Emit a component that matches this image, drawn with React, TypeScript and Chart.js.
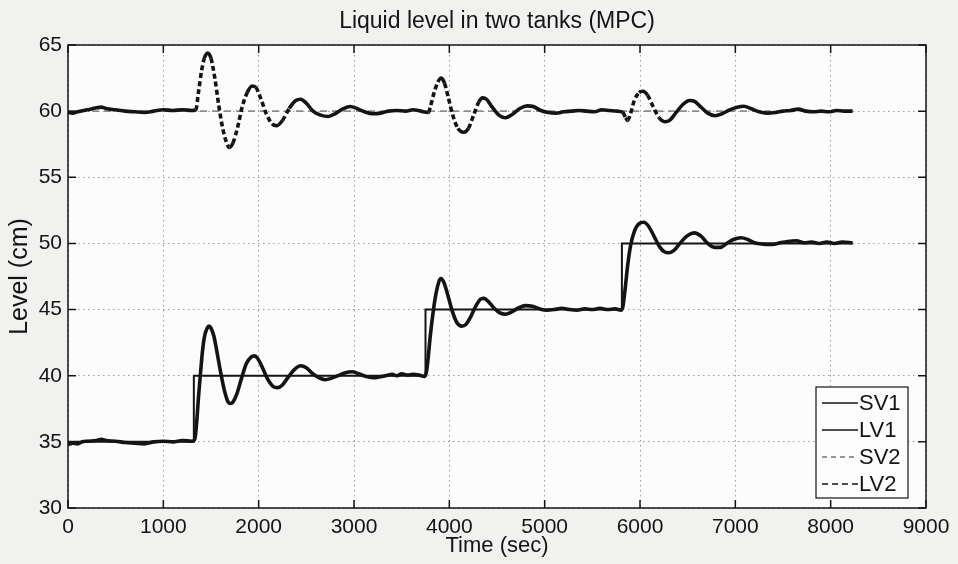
import React, { useEffect, useRef } from "react";
import { Chart, registerables } from "chart.js";

Chart.register(...registerables);

const TITLE = "Liquid level in two tanks (MPC)";
const X_LABEL = "Time (sec)";
const Y_LABEL = "Level (cm)";
const X_TICKS = [0, 1000, 2000, 3000, 4000, 5000, 6000, 7000, 8000, 9000];
const Y_TICKS = [30, 35, 40, 45, 50, 55, 60, 65];
const LEGEND_LABELS = ["SV1", "LV1", "SV2", "LV2"];

// SV1 set-point (tank 1)
const SV1_T = [0, 1320, 1320, 3750, 3750, 5810, 5810, 8230];
const SV1_V = [35, 35, 40, 40, 45, 45, 50, 50];

// SV2 set-point (tank 2)
const SV2_T = [0, 8230];
const SV2_V = [60, 60];

// LV1 measured level (tank 1)
const LV1_T = [
  0, 50, 100, 150, 200, 300, 350, 400, 500, 600, 700, 800, 900, 1000, 1100, 1200, 1300,
  1330, 1350, 1370, 1390, 1410, 1430, 1460, 1480, 1500, 1530, 1560, 1600, 1640, 1680, 1705,
  1730, 1770, 1820, 1870, 1920, 1955, 1990, 2040, 2090, 2150, 2200, 2250, 2310, 2380, 2440,
  2500, 2560, 2630, 2700, 2760, 2830, 2900, 2980, 3050, 3120, 3200, 3260, 3330, 3400, 3450,
  3500, 3560, 3620, 3680, 3740, 3760, 3780, 3800, 3830, 3860, 3890, 3910, 3940, 3980, 4030,
  4080, 4130, 4170, 4220, 4280, 4330, 4365, 4410, 4470, 4530, 4590, 4650, 4720, 4800, 4870,
  4950, 5020, 5100, 5180, 5260, 5340, 5420, 5500, 5580, 5660, 5740, 5800, 5820, 5840, 5870,
  5900, 5940, 5990, 6040, 6090, 6150, 6210, 6260, 6300, 6360, 6430, 6500, 6570, 6640, 6710,
  6780, 6840, 6910, 6980, 7060, 7130, 7200, 7290, 7390, 7470, 7550, 7640, 7720, 7800, 7880,
  7960, 8040, 8120, 8230,
];
const LV1_V = [
  34.8, 34.9, 34.85, 35.0, 35.05, 35.1, 35.2, 35.1, 35.05, 34.95, 34.9, 34.85, 35.0, 35.05, 35.0, 35.1, 35.05,
  35.2, 36.5, 38.5, 40.2, 41.8, 42.9, 43.6, 43.75, 43.6, 43.0, 41.9, 40.3, 38.9, 38.0, 37.9,
  38.0, 38.6, 39.8, 40.9, 41.4, 41.5, 41.3, 40.6, 39.8, 39.2, 39.1, 39.3, 39.9, 40.5, 40.75,
  40.6, 40.2, 39.85, 39.7, 39.8, 40.0, 40.2, 40.3, 40.15, 39.95, 39.85, 39.9, 40.0, 40.1, 40.0,
  40.15, 40.05, 40.1, 40.05, 39.95, 40.3, 41.5, 43.0, 44.8, 46.2, 47.1, 47.35, 47.1, 46.2, 44.9,
  44.0, 43.75, 43.85, 44.4, 45.3, 45.8, 45.85, 45.6, 45.1, 44.75, 44.65, 44.8, 45.1, 45.3, 45.25,
  45.05, 44.95, 45.0, 45.1, 45.0, 44.95, 45.05, 45.0, 45.1, 45.0, 45.05, 44.95, 45.2, 46.3, 48.3,
  49.8, 50.9, 51.5, 51.6, 51.3, 50.5, 49.7, 49.35, 49.3, 49.5, 50.1, 50.6, 50.8, 50.55, 50.0,
  49.7, 49.7, 50.0, 50.3, 50.43, 50.3, 50.05, 49.95, 49.93, 50.05, 50.15, 50.2, 50.05, 50.1, 50.0,
  50.1, 50.0, 50.1, 50.05,
];

// LV2 measured level (tank 2)
const LV2_T = [
  0, 50, 100, 200, 300, 350, 400, 500, 600, 700, 800, 900, 1000, 1100, 1200, 1300, 1340,
  1370, 1400, 1430, 1465, 1500, 1540, 1580, 1620, 1660, 1695, 1730, 1780, 1830, 1880, 1930,
  1970, 2020, 2080, 2140, 2190, 2250, 2320, 2390, 2440, 2500, 2570, 2650, 2730, 2800, 2880,
  2960, 3030, 3110, 3200, 3280, 3360, 3450, 3540, 3620, 3700, 3780, 3800, 3840, 3880, 3915,
  3950, 3990, 4040, 4090, 4150, 4200, 4260, 4310, 4350, 4390, 4450, 4520, 4590, 4660, 4740,
  4820, 4880, 4960, 5040, 5120, 5200, 5280, 5360, 5440, 5520, 5600, 5680, 5760, 5820, 5850,
  5870, 5900, 5940, 5990, 6030, 6080, 6140, 6200, 6260, 6310, 6380, 6450, 6520, 6570, 6640,
  6710, 6790, 6860, 6940, 7020, 7090, 7160, 7250, 7330, 7420, 7500, 7580, 7660, 7740, 7820,
  7900, 7980, 8060, 8140, 8230,
];
const LV2_V = [
  59.9, 59.85, 59.95, 60.1, 60.25, 60.3, 60.2, 60.1, 60.0, 59.95, 59.9, 60.0, 60.1, 60.05, 60.1, 60.05, 60.1,
  61.5, 63.0, 64.0, 64.4, 64.0, 62.5, 60.5, 58.8, 57.7, 57.25, 57.6, 58.8, 60.4, 61.4, 61.9,
  61.8, 61.0, 59.8, 59.05, 58.9, 59.3, 60.2, 60.8, 60.9, 60.6, 60.0, 59.7, 59.6, 59.8, 60.15,
  60.35, 60.2, 59.95, 59.8, 59.85, 60.0, 60.05, 60.0, 60.1, 60.0, 59.9, 60.3, 61.4, 62.2, 62.5,
  62.1, 61.0, 59.6, 58.7, 58.4, 58.7, 59.8, 60.7, 61.0, 60.9, 60.3, 59.7, 59.5, 59.75, 60.2,
  60.4, 60.35, 60.05, 59.9, 59.85, 59.95, 60.0, 60.05, 60.0, 59.95, 60.1, 60.05, 60.0, 59.9, 59.5,
  59.3, 59.8, 60.8, 61.4, 61.5, 61.2, 60.3, 59.5, 59.2, 59.3, 59.9, 60.5, 60.8, 60.75, 60.3,
  59.85, 59.65, 59.8, 60.1, 60.3, 60.37, 60.2, 59.95, 59.85, 59.9, 60.0, 60.05, 60.15, 60.0, 59.95,
  60.0, 59.95, 60.05, 60.0, 60.0,
];

const FONT = "'Liberation Sans', Arial, Helvetica, sans-serif";
const INK = "#141414";

const toPoints = (t: number[], v: number[]) => t.map((x, i) => ({ x, y: v[i] }));

const decorPlugin = {
  id: "decor",
  beforeDraw(chart: any) {
    const { ctx, width, height, chartArea: a } = chart;
    ctx.save();
    ctx.fillStyle = "#f1f1f0";
    ctx.fillRect(0, 0, width, height);
    ctx.fillStyle = "#fcfcfc";
    ctx.fillRect(a.left, a.top, a.right - a.left, a.bottom - a.top);
    ctx.restore();
  },
  afterDatasetsDraw(chart: any) {
    const { ctx, chartArea: a, scales } = chart;
    const xs = scales.x;
    const ys = scales.y;
    const tl = 8;
    ctx.save();
    ctx.strokeStyle = INK;
    ctx.lineWidth = 1.5;
    ctx.setLineDash([]);
    ctx.strokeRect(a.left, a.top, a.right - a.left, a.bottom - a.top);
    ctx.beginPath();
    X_TICKS.forEach((v) => {
      const px = xs.getPixelForValue(v);
      ctx.moveTo(px, a.bottom);
      ctx.lineTo(px, a.bottom - tl);
      ctx.moveTo(px, a.top);
      ctx.lineTo(px, a.top + tl);
    });
    Y_TICKS.forEach((v) => {
      const py = ys.getPixelForValue(v);
      ctx.moveTo(a.left, py);
      ctx.lineTo(a.left + tl, py);
      ctx.moveTo(a.right, py);
      ctx.lineTo(a.right - tl, py);
    });
    ctx.stroke();

    // legend box
    const bw = 92;
    const bh = 111;
    const bx = a.right - 18 - bw;
    const by = a.bottom - 10 - bh;
    ctx.fillStyle = "#fdfdfd";
    ctx.fillRect(bx, by, bw, bh);
    ctx.lineWidth = 1.2;
    ctx.strokeRect(bx, by, bw, bh);
    ctx.font = `22px ${FONT}`;
    ctx.textBaseline = "middle";
    ctx.textAlign = "left";
    chart.data.datasets.forEach((ds: any, i: number) => {
      const cy = by + 16 + i * 27;
      ctx.beginPath();
      ctx.strokeStyle = ds.legendColor;
      ctx.lineWidth = 1.6;
      ctx.setLineDash(ds.legendDash);
      ctx.moveTo(bx + 6, cy);
      ctx.lineTo(bx + 42, cy);
      ctx.stroke();
      ctx.setLineDash([]);
      ctx.fillStyle = INK;
      ctx.fillText(LEGEND_LABELS[i], bx + 43, cy + 1);
    });
    ctx.restore();
  },
};

export default function App() {
  const ref = useRef<HTMLCanvasElement | null>(null);

  useEffect(() => {
    if (!ref.current) return;
    const chart = new Chart(ref.current, {
      type: "line",
      data: {
        datasets: [
          {
            label: "SV1",
            data: toPoints(SV1_T, SV1_V),
            borderColor: INK,
            borderWidth: 2,
            pointRadius: 0,
            order: 0,
            legendColor: INK,
            legendDash: [],
          } as any,
          {
            label: "LV1",
            data: toPoints(LV1_T, LV1_V),
            borderColor: INK,
            borderWidth: 3.6,
            pointRadius: 0,
            cubicInterpolationMode: "monotone",
            order: 1,
            legendColor: INK,
            legendDash: [],
          } as any,
          {
            label: "SV2",
            data: toPoints(SV2_T, SV2_V),
            borderColor: "#8c8c8c",
            borderWidth: 1.6,
            borderDash: [7, 5],
            pointRadius: 0,
            order: 3,
            legendColor: "#777",
            legendDash: [5, 4],
          } as any,
          {
            label: "LV2",
            data: toPoints(LV2_T, LV2_V),
            borderColor: INK,
            borderWidth: 3.6,
            pointRadius: 0,
            cubicInterpolationMode: "monotone",
            order: 2,
            legendColor: INK,
            legendDash: [6, 4],
            segment: {
              borderDash: (c: any) => {
                const dy = c.p1.parsed.y - c.p0.parsed.y;
                const dx = c.p1.parsed.x - c.p0.parsed.x;
                return Math.abs(dy / dx) > 0.012 ? [5, 3] : undefined;
              },
            },
          } as any,
        ],
      },
      options: {
        animation: false,
        responsive: true,
        maintainAspectRatio: false,
        layout: { padding: { left: 0, right: 32, top: 0, bottom: 0 } },
        plugins: {
          legend: { display: false },
          tooltip: { enabled: false },
          title: {
            display: true,
            text: TITLE,
            color: INK,
            fullSize: false,
            font: { family: FONT, size: 23, weight: "normal" },
            padding: { top: 8.2, bottom: 9.2 },
          },
        },
        scales: {
          x: {
            type: "linear",
            min: 0,
            max: 9000,
            afterBuildTicks: (s: any) => {
              s.ticks = X_TICKS.map((v) => ({ value: v }));
            },
            afterFit: (s: any) => {
              s.height = 56;
              s.paddingLeft = 0;
              s.paddingRight = 0;
            },
            ticks: {
              color: INK,
              padding: 7,
              maxRotation: 0,
              autoSkip: false,
              font: { family: FONT, size: 21 },
              callback: (v: any) => String(v),
            },
            grid: { color: "#9d9d9d", lineWidth: 1, drawTicks: false },
            border: { display: false, dash: [1.5, 3.5] },
            title: {
              display: true,
              text: X_LABEL,
              color: INK,
              font: { family: FONT, size: 22 },
              padding: { top: 0, bottom: 4.8 },
            },
          },
          y: {
            type: "linear",
            min: 30,
            max: 65,
            afterBuildTicks: (s: any) => {
              s.ticks = Y_TICKS.map((v) => ({ value: v }));
            },
            afterFit: (s: any) => {
              s.width = 68;
              s.paddingTop = 0;
              s.paddingBottom = 0;
            },
            ticks: {
              color: INK,
              padding: 6,
              autoSkip: false,
              font: { family: FONT, size: 21 },
              callback: (v: any) => String(v),
            },
            grid: { color: "#9d9d9d", lineWidth: 1, drawTicks: false },
            border: { display: false, dash: [1.5, 3.5] },
            title: {
              display: true,
              text: Y_LABEL,
              color: INK,
              font: { family: FONT, size: 25 },
              padding: { top: 5, bottom: 0 },
            },
          },
        },
      },
      plugins: [decorPlugin],
    } as any);
    return () => chart.destroy();
  }, []);

  return (
    <div style={{ position: "absolute", left: 0, top: 0, width: 958, height: 564 }}>
      <canvas ref={ref} />
    </div>
  );
}
